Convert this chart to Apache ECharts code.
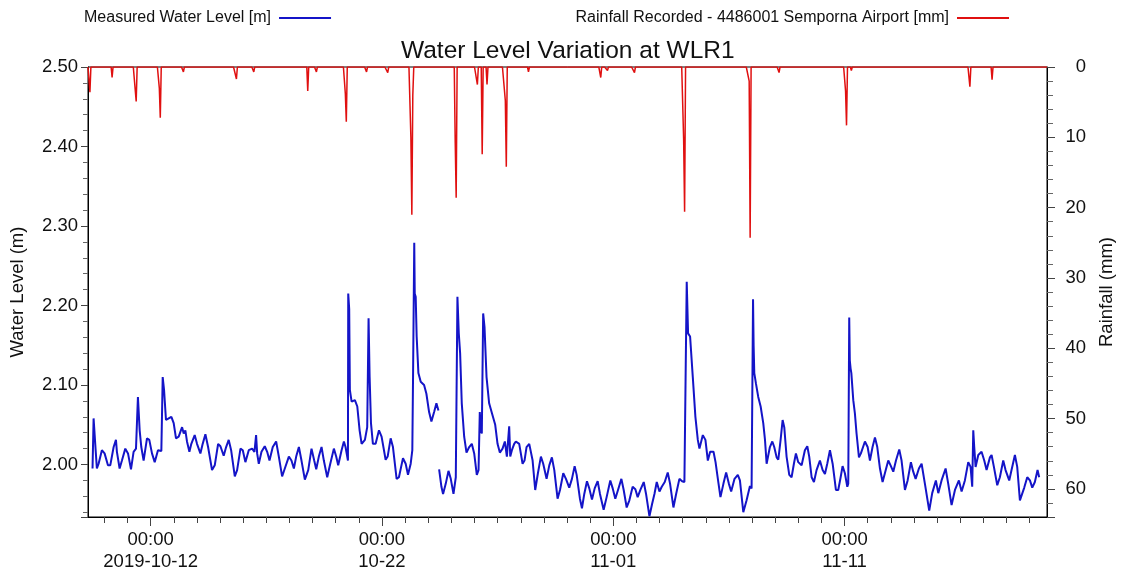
<!DOCTYPE html>
<html><head><meta charset="utf-8">
<script src="https://cdn.jsdelivr.net/npm/echarts@6/dist/echarts.min.js"></script>
<style>html,body{margin:0;padding:0;background:#fff}#c{width:1126px;height:576px}</style>
</head><body><div id="c"></div>
<script>
// x values are hours since 2019-10-12 00:00
const HOUR_MIN = -65, HOUR_MAX = 930;
const tickHours = [0, 240, 480, 720];
const tickLabels = ['00:00\n2019-10-12', '00:00\n10-22', '00:00\n11-01', '00:00\n11-11'];

// Measured water level [m] : [hour, level] – before the logger gap
const levelPart1 = [
[-60.3,1.995],[-59.2,2.058],[-57.5,2.026],[-55.8,1.995],[-54.0,2.001],[-50.6,2.018],[-47.8,2.014],[-44.3,1.999],[-41.9,1.999],
[-38.4,2.022],[-36.0,2.031],[-35.0,2.016],[-32.2,1.995],[-29.8,2.005],[-26.3,2.020],[-23.5,2.014],[-20.4,1.994],[-17.7,2.016],
[-15.2,2.020],[-13.2,2.085],[-11.4,2.043],[-9.7,2.022],[-7.3,2.005],[-3.8,2.033],[-1.4,2.031],[1.4,2.014],[4.2,2.003],[7.6,2.018],
[11.1,2.017],[12.5,2.110],[13.9,2.094],[15.9,2.056],[18.7,2.058],[21.5,2.060],[23.9,2.052],[26.3,2.033],[29.1,2.035],[32.6,2.047],
[34.3,2.039],[36.0,2.043],[37.7,2.029],[40.2,2.016],[42.2,2.026],[45.7,2.037],[48.1,2.026],[51.6,2.014],[54.0,2.026],[56.8,2.038],
[59.6,2.022],[63.7,1.993],[66.5,1.999],[70.0,2.026],[72.4,2.023],[75.8,2.011],[78.3,2.022],[81.0,2.031],[83.5,2.018],[87.3,1.985],
[89.7,1.993],[93.2,2.020],[95.6,2.018],[98.3,2.003],[101.8,2.018],[105.3,2.020],[107.7,2.016],[109.4,2.037],[110.5,2.014],[112.2,2.001],
[115.0,2.016],[118.4,2.023],[120.9,2.016],[123.3,2.005],[126.7,2.022],[130.2,2.029],[133.0,2.010],[136.4,1.985],[139.2,1.995],[143.4,2.010],
[146.1,2.005],[148.6,1.995],[151.0,2.010],[153.8,2.022],[156.5,2.005],[160.0,1.981],[163.5,1.993],[166.9,2.020],[169.7,2.005],[171.8,1.994],
[174.5,2.010],[177.3,2.022],[179.7,2.005],[183.2,1.984],[186.0,1.999],[190.1,2.020],[192.5,2.010],[194.6,1.999],[198.1,2.018],[200.5,2.029],
[202.2,2.022],[204.7,2.005],[205.0,2.215],[206.0,2.196],[206.7,2.094],[208.5,2.079],[211.9,2.081],[214.4,2.073],[216.8,2.043],[218.9,2.026],
[222.3,2.031],[224.7,2.047],[226.1,2.184],[227.2,2.110],[228.6,2.052],[230.6,2.026],[233.4,2.026],[236.9,2.043],[239.6,2.035],[243.8,2.006],
[245.9,2.010],[249.0,2.033],[251.4,2.022],[255.2,1.982],[257.6,1.984],[261.8,2.008],[264.6,2.001],[267.0,1.987],[269.8,2.001],[271.5,2.018],
[272.3,2.117],[273.5,2.279],[274.0,2.215],[275.0,2.211],[276.0,2.161],[277.8,2.115],[280.2,2.104],[283.7,2.100],[286.1,2.089],[288.9,2.066],
[291.3,2.054],[294.1,2.066],[296.5,2.077],[298.6,2.068]
];
// after the gap
const levelPart2 = [
[299.3,1.994],[301.7,1.972],[303.4,1.963],[306.2,1.976],[309.0,1.992],[311.4,1.982],[314.2,1.963],[316.6,1.984],[318.3,2.211],[319.7,2.165],
[321.1,2.140],[322.8,2.077],[325.3,2.035],[327.7,2.015],[330.5,2.022],[333.2,2.026],[335.7,2.014],[338.4,1.987],[340.2,1.993],[341.5,2.066],
[342.6,2.043],[343.6,2.039],[345.0,2.190],[346.4,2.173],[348.5,2.110],[351.2,2.077],[354.7,2.062],[357.5,2.050],[359.9,2.026],[362.3,2.015],
[365.1,2.020],[367.5,2.029],[369.6,2.010],[372.0,2.048],[373.1,2.010],[374.8,2.018],[377.2,2.026],[378.9,2.029],[382.4,2.026],[385.9,2.001],
[387.9,2.005],[390.0,2.022],[392.8,2.026],[396.3,2.005],[399.0,1.968],[401.8,1.989],[404.9,2.010],[407.3,2.001],[410.8,1.982],[413.6,1.999],
[416.3,2.009],[418.8,1.993],[422.2,1.957],[424.7,1.968],[428.1,1.989],[430.9,1.982],[434.3,1.971],[437.1,1.982],[439.9,1.998],[442.0,1.987],
[445.4,1.957],[447.5,1.945],[449.9,1.963],[452.7,1.979],[455.1,1.970],[457.9,1.956],[460.7,1.970],[463.8,1.979],[466.2,1.963],[470.0,1.943],
[473.1,1.959],[476.9,1.980],[479.4,1.970],[482.1,1.957],[484.9,1.968],[488.4,1.982],[490.8,1.968],[493.9,1.946],[496.7,1.955],[500.1,1.972],
[502.9,1.969],[505.3,1.959],[508.1,1.968],[511.6,1.978],[514.0,1.963],[517.5,1.935],[520.2,1.950],[522.7,1.963],[525.1,1.978],[527.9,1.966],
[530.3,1.972],[533.4,1.978],[536.5,1.990],[538.9,1.976],[542.4,1.946],[545.2,1.963],[548.6,1.982],[551.4,1.979],[553.8,1.978],[555.2,2.127],
[556.2,2.230],[557.6,2.165],[559.7,2.161],[562.5,2.110],[565.2,2.060],[567.7,2.031],[569.4,2.020],[572.9,2.037],[575.6,2.031],[578.1,2.005],
[580.5,2.016],[581.9,2.014],[584.0,2.016],[586.1,2.003],[588.5,1.982],[591.2,1.959],[594.3,1.976],[597.1,1.990],[599.9,1.976],[602.3,1.966],
[605.8,1.982],[609.2,1.987],[611.4,1.980],[614.9,1.940],[618.3,1.955],[621.8,1.973],[623.5,1.970],[624.6,1.968],[625.0,2.208],[625.6,2.150],
[626.3,2.115],[628.0,2.102],[630.4,2.085],[632.9,2.073],[635.6,2.052],[637.4,2.031],[639.1,2.001],[640.1,1.999],[642.5,2.022],[645.0,2.029],
[647.0,2.022],[649.5,2.009],[651.2,2.006],[653.6,2.031],[655.7,2.056],[657.4,2.047],[659.8,2.010],[662.6,1.987],[665.0,1.984],[667.4,2.001],
[669.5,2.014],[671.9,2.003],[675.4,1.999],[678.8,2.018],[681.3,2.023],[683.3,2.010],[685.8,1.984],[688.2,1.978],[690.9,1.993],[694.4,2.005],
[697.2,1.993],[699.6,1.988],[702.0,2.001],[704.8,2.018],[707.6,2.001],[711.0,1.968],[713.4,1.968],[715.9,1.984],[717.9,1.998],[720.3,1.989],
[722.8,1.972],[723.8,1.976],[724.8,2.185],[725.4,2.131],[726.2,2.121],[727.0,2.115],[729.0,2.081],[730.7,2.064],[732.4,2.039],[734.9,2.009],
[736.9,2.014],[741.1,2.029],[743.9,2.022],[746.3,2.005],[749.0,2.022],[751.5,2.034],[753.9,2.022],[756.7,1.995],[759.4,1.978],[761.8,1.989],
[765.3,2.005],[767.7,1.999],[770.5,1.991],[773.3,2.005],[776.7,2.019],[779.1,2.005],[782.6,1.968],[785.4,1.980],[788.8,2.003],[791.2,1.991],
[793.7,1.982],[797.1,1.995],[799.9,2.001],[803.3,1.976],[807.8,1.942],[810.9,1.964],[814.7,1.980],[817.2,1.964],[820.6,1.980],[824.8,1.995],
[827.5,1.976],[831.0,1.949],[834.5,1.968],[838.6,1.980],[841.4,1.966],[844.8,1.980],[848.3,2.003],[850.7,1.997],[852.4,1.972],[853.5,2.043],
[854.5,2.022],[855.9,1.997],[858.7,2.012],[862.1,2.016],[864.9,2.005],[867.3,1.993],[870.8,2.009],[872.5,2.012],[874.9,1.997],[878.4,1.974],
[881.1,1.984],[884.6,2.005],[887.0,1.993],[890.8,1.980],[893.2,1.993],[896.7,2.012],[899.1,1.997],[901.9,1.955],[903.6,1.953],[906.4,1.971],
[909.5,1.984],[912.3,1.980],[914.7,1.971],[917.4,1.978],[920.2,1.993],[921.9,1.984]
];

// Hourly rainfall [mm] (all other hours recorded 0)
const rainHours = [-63, -40, -15, 9, 10, 34, 89, 107, 163, 172, 202, 203, 224, 246, 270, 271, 272, 316, 317, 339, 344, 349, 368, 369, 392, 467, 474, 502, 553, 554, 621, 622, 652, 721, 722, 727, 850, 873];
const rainMm    = [3.6, 1.5, 4.9, 3.0, 7.2, 0.7, 1.7, 0.7, 3.4, 0.7, 3.8, 7.8, 0.7, 0.8, 10.0, 21.0, 4.0, 10.7, 18.6, 2.5, 12.4, 2.5, 4.8, 14.2, 0.7, 1.5, 0.5, 0.8, 10.3, 20.6, 2.0, 24.3, 0.8, 3.4, 8.3, 0.5, 2.8, 1.8];

const FONT = 'Liberation Sans, Arial, sans-serif';
const TXT = '#111';
const BLUE = '#1414c8';
const RED = '#e01010';
const TICK = '#444';

const levelData = levelPart1.concat([[299.0, null]], levelPart2);
const rainData = [];
for (let h = HOUR_MIN; h <= HOUR_MAX; h++) {
  const i = rainHours.indexOf(h);
  rainData.push([h, i >= 0 ? rainMm[i] : 0]);
}
const dayTicks = [];
for (let h = Math.ceil(HOUR_MIN / 24) * 24; h <= HOUR_MAX; h += 24) dayTicks.push(h);

const chart = echarts.init(document.getElementById('c'), null, {renderer: 'canvas'});
chart.setOption({
  backgroundColor: '#fff',
  animation: false,
  title: {
    text: 'Water Level Variation at WLR1',
    left: 396, top: 34,
    textStyle: {fontFamily: FONT, fontSize: 24.5, fontWeight: 'normal', color: TXT}
  },
  legend: [
    {data: ['Measured Water Level [m]'], left: 79, top: 5, align: 'right', icon: 'rect',
     itemWidth: 52, itemHeight: 2, textStyle: {fontFamily: FONT, fontSize: 16, color: TXT, padding: [0, 3, 0, 0]}},
    {data: ['Rainfall Recorded - 4486001 Semporna Airport [mm]'], right: 112, top: 5, align: 'right', icon: 'rect',
     itemWidth: 52, itemHeight: 2, textStyle: {fontFamily: FONT, fontSize: 16, color: TXT, padding: [0, 3, 0, 0]}}
  ],
  grid: {left: 88, right: 79, top: 67, bottom: 59, show: true, borderColor: '#000', borderWidth: 1, backgroundColor: 'transparent'},
  xAxis: [
    {type: 'value', min: HOUR_MIN, max: HOUR_MAX, position: 'bottom',
     axisLine: {show: true, onZero: false, lineStyle: {color: '#000', width: 1}},
     splitLine: {show: false},
     axisTick: {show: true, length: 6, customValues: dayTicks, lineStyle: {color: TICK}},
     axisLabel: {show: true, customValues: tickHours, margin: 12, fontFamily: FONT, fontSize: 18.5, lineHeight: 22, color: TXT,
       formatter: v => tickLabels[tickHours.indexOf(v)] || ''}},
    {type: 'value', min: HOUR_MIN, max: HOUR_MAX, position: 'bottom',
     axisLine: {show: false, onZero: false}, splitLine: {show: false}, axisLabel: {show: false},
     axisTick: {show: true, length: 9, customValues: tickHours, lineStyle: {color: TICK}}}
  ],
  yAxis: [
    {type: 'value', min: 1.934, max: 2.5, splitNumber: 5, position: 'left',
     name: 'Water Level (m)', nameLocation: 'middle', nameGap: 61, nameRotate: 90,
     nameTextStyle: {fontFamily: FONT, fontSize: 18.5, color: TXT},
     axisLine: {show: true, onZero: false, lineStyle: {color: '#000'}},
     splitLine: {show: false},
     axisTick: {show: true, length: 7, lineStyle: {color: TICK}},
     minorTick: {show: true, splitNumber: 5, length: 5, lineStyle: {color: '#666'}},
     axisLabel: {showMinLabel: false, margin: 10, fontFamily: FONT, fontSize: 18.5, color: TXT, formatter: v => v.toFixed(2)}},
    {type: 'value', min: 0, max: 64, splitNumber: 6, inverse: true, position: 'right',
     name: 'Rainfall (mm)', nameLocation: 'middle', nameGap: 50, nameRotate: 90,
     nameTextStyle: {fontFamily: FONT, fontSize: 18.5, color: TXT},
     axisLine: {show: true, onZero: false, lineStyle: {color: '#000'}},
     splitLine: {show: false},
     axisTick: {show: true, length: 8, lineStyle: {color: TICK}},
     minorTick: {show: true, splitNumber: 5, length: 6, lineStyle: {color: '#666'}},
     axisLabel: {showMaxLabel: false, margin: 39, align: 'right', fontFamily: FONT, fontSize: 18.5, color: TXT}}
  ],
  series: [
    {name: 'Measured Water Level [m]', type: 'line', xAxisIndex: 0, yAxisIndex: 0, data: levelData,
     showSymbol: false, connectNulls: false, color: BLUE, lineStyle: {color: BLUE, width: 2}, z: 2},
    {name: 'Rainfall Recorded - 4486001 Semporna Airport [mm]', type: 'line', xAxisIndex: 0, yAxisIndex: 1, data: rainData,
     showSymbol: false, color: RED, lineStyle: {color: RED, width: 1.5}, z: 3}
  ]
});
</script>
</body></html>
